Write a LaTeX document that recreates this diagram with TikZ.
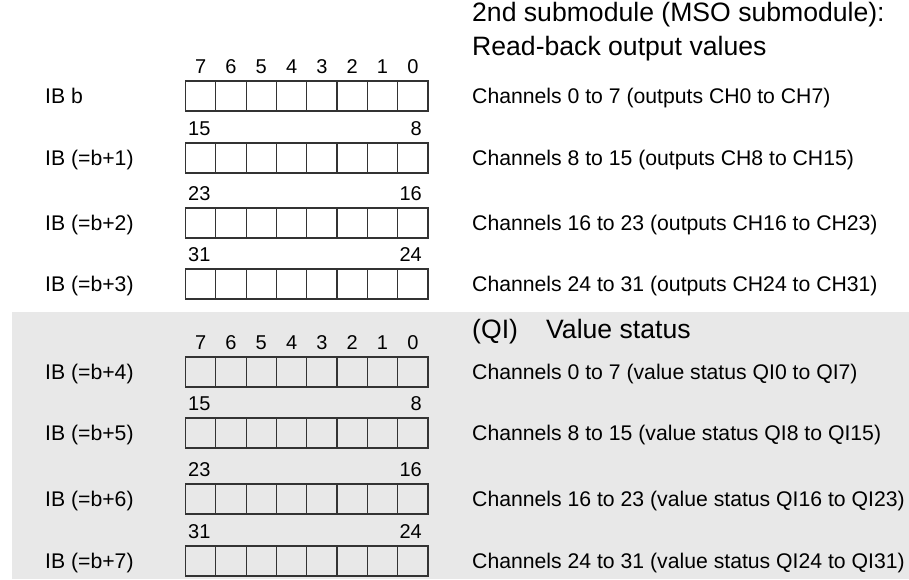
\documentclass[tikz,border=0pt]{standalone}
\usepackage{fontspec}
\setmainfont{Liberation Sans}
\usetikzlibrary{positioning}
\definecolor{statusgray}{HTML}{E8E8E8}
\definecolor{boxline}{HTML}{333333}

\begin{document}
\begin{tikzpicture}[x=1pt, y=-1pt,
    lbl/.style={anchor=base west, inner sep=0pt, font=\fontsize{21.2}{25}\selectfont},
    bitnum/.style={anchor=base, inner sep=0pt, font=\fontsize{20}{24}\selectfont},
    head/.style={anchor=base west, inner sep=0pt, font=\fontsize{26.6}{32}\selectfont},
    cell/.style={draw=boxline, line width=1.2pt}]
  \useasboundingbox (0,0) rectangle (909,579);
  % value status area
  \fill[statusgray] (12,312) rectangle (909,579);

  % headings
  \node[head] (title)  at (472,21)  {2nd submodule (MSO submodule):};
  \node[head] (title2) at (472,55)  {Read-back output values};
  \node[head] (qi)     at (472,338) {(QI)};
  \node[head] (status) at (546,338) {Value status};

  % byte rows
  \foreach \top/\lab/\txt [count=\k] in {
      81/IB b/Channels 0 to 7 (outputs CH0 to CH7),
      143/IB (=b+1)/Channels 8 to 15 (outputs CH8 to CH15),
      208/IB (=b+2)/Channels 16 to 23 (outputs CH16 to CH23),
      269/IB (=b+3)/Channels 24 to 31 (outputs CH24 to CH31),
      357/IB (=b+4)/Channels 0 to 7 (value status QI0 to QI7),
      418/IB (=b+5)/Channels 8 to 15 (value status QI8 to QI15),
      484/IB (=b+6)/Channels 16 to 23 (value status QI16 to QI23),
      546/IB (=b+7)/Channels 24 to 31 (value status QI24 to QI31)} {
    \draw[cell] (185.5,\top) rectangle (428,\top+30);
    \foreach \c in {1,...,7}
      \draw[cell] (185.5+30.31*\c,\top) -- ++(0,30);
    \node[lbl] (ib\k) at (45,\top+22.5) {\lab};
    \node[lbl] (ch\k) at (472,\top+22.5) {\txt};
  }

  % bit numbers
  \foreach \top/\s in {81/a, 357/b}
    \foreach \b in {0,...,7}
      \node[bitnum] (bit\s\b) at (200.65+30.31*7-30.31*\b,\top-8) {\b};
  \foreach \top/\hi/\lo in {143/15/8, 208/23/16, 269/31/24,
                           418/15/8, 484/23/16, 546/31/24} {
    \node[bitnum, anchor=base west] (hi\top) at (188,\top-8) {\hi};
    \node[bitnum, anchor=base east] (lo\top) at (422,\top-8) {\lo};
  }
\end{tikzpicture}
\end{document}
